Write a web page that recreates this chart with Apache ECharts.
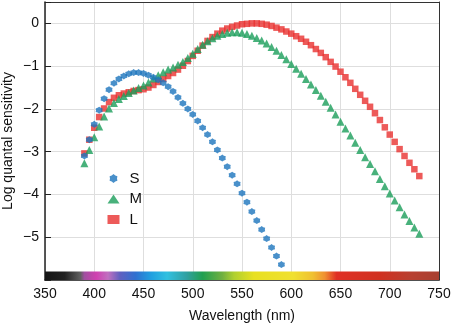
<!DOCTYPE html>
<html>
<head>
<meta charset="utf-8">
<script src="https://cdn.jsdelivr.net/npm/echarts@6/dist/echarts.min.js"></script>
<style>
html,body{margin:0;padding:0;background:#fff;}
#chart{width:452px;height:324px;}
</style>
</head>
<body>
<div id="chart"></div>
<script>
// Wavelengths (nm)
const wlS = [390,395,400,405,410,415,420,425,430,435,440,445,450,455,460,465,470,475,480,485,490,495,500,505,510,515,520,525,530,535,540,545,550,555,560,565,570,575,580,585,590];
const wlML = [390,395,400,405,410,415,420,425,430,435,440,445,450,455,460,465,470,475,480,485,490,495,500,505,510,515,520,525,530,535,540,545,550,555,560,565,570,575,580,585,590,595,600,605,610,615,620,625,630,635,640,645,650,655,660,665,670,675,680,685,690,695,700,705,710,715,720,725,730];

// Log quantal sensitivity
const sValues = [-3.10,-2.72,-2.36,-2.03,-1.76,-1.55,-1.40,-1.30,-1.23,-1.18,-1.15,-1.15,-1.17,-1.21,-1.26,-1.32,-1.39,-1.48,-1.59,-1.73,-1.87,-2.00,-2.13,-2.28,-2.44,-2.60,-2.77,-2.96,-3.15,-3.35,-3.55,-3.75,-3.97,-4.18,-4.40,-4.61,-4.82,-5.03,-5.24,-5.44,-5.64];
const mValues = [-3.27,-2.96,-2.66,-2.41,-2.18,-1.99,-1.86,-1.77,-1.70,-1.63,-1.57,-1.51,-1.45,-1.38,-1.29,-1.21,-1.14,-1.08,-1.03,-0.97,-0.90,-0.81,-0.71,-0.60,-0.50,-0.42,-0.35,-0.29,-0.25,-0.22,-0.21,-0.21,-0.22,-0.25,-0.29,-0.34,-0.40,-0.47,-0.55,-0.64,-0.74,-0.84,-0.95,-1.06,-1.18,-1.30,-1.43,-1.56,-1.69,-1.83,-1.97,-2.13,-2.30,-2.46,-2.62,-2.79,-2.96,-3.13,-3.29,-3.46,-3.64,-3.81,-3.98,-4.14,-4.30,-4.47,-4.62,-4.77,-4.92];
const lValues = [-3.04,-2.72,-2.44,-2.19,-1.99,-1.84,-1.74,-1.68,-1.64,-1.61,-1.58,-1.56,-1.54,-1.50,-1.44,-1.37,-1.30,-1.23,-1.16,-1.08,-0.99,-0.88,-0.76,-0.64,-0.52,-0.41,-0.32,-0.24,-0.17,-0.12,-0.08,-0.05,-0.02,-0.01,0.00,0.00,-0.01,-0.03,-0.06,-0.10,-0.14,-0.19,-0.24,-0.30,-0.36,-0.43,-0.51,-0.60,-0.69,-0.79,-0.90,-1.01,-1.13,-1.26,-1.39,-1.53,-1.67,-1.81,-1.95,-2.10,-2.26,-2.43,-2.60,-2.77,-2.94,-3.10,-3.26,-3.41,-3.57];

const seriesNames = ['S','M','L'];
const xTicks = [350,400,450,500,550,600,650,700,750];
const yTicks = [0,-1,-2,-3,-4,-5];

const starPath = 'path://M0,-1L0.39,-0.675L0.866,-0.5L0.78,0L0.866,0.5L0.39,0.675L0,1L-0.39,0.675L-0.866,0.5L-0.78,0L-0.866,-0.5L-0.39,-0.675Z';

const pairs = (xs, ys) => xs.map((x, i) => [x, ys[i]]);
const font = '"Liberation Sans", Arial, Helvetica, sans-serif';
const frameAxis = {show: true, lineStyle: {color: '#333', width: 1}};

const chart = echarts.init(document.getElementById('chart'), null, {renderer: 'canvas'});
chart.setOption({
  animation: false,
  backgroundColor: '#ffffff',
  grid: {left: 45, right: 13, top: 2, bottom: 44, containLabel: false, outerBoundsMode: 'none'},
  legend: {
    data: seriesNames,
    orient: 'vertical',
    left: 102.5, top: 166,
    itemWidth: 12, itemHeight: 9, itemGap: 5.5,
    textStyle: {fontFamily: font, fontSize: 15, color: '#111', lineHeight: 14, padding: [0,0,0,5]}
  },
  xAxis: [{
    type: 'value', min: 350, max: 750, interval: 50,
    name: 'Wavelength (nm)', nameLocation: 'middle', nameGap: 29,
    nameTextStyle: {fontFamily: font, fontSize: 14, color: '#111'},
    axisLine: {show: true, onZero: false, lineStyle: {color: '#222', width: 1.5}},
    axisTick: {show: false},
    axisLabel: {fontFamily: font, fontSize: 14, color: '#111', margin: 7,
      formatter: v => xTicks.indexOf(v) >= 0 ? String(v) : ''},
    splitLine: {show: true, lineStyle: {color: '#dedede', width: 1}}
  }, {
    type: 'value', position: 'top', min: 350, max: 750, interval: 50,
    axisLine: Object.assign({onZero: false}, frameAxis),
    axisTick: {show: false}, axisLabel: {show: false}, splitLine: {show: false}
  }],
  yAxis: [{
    type: 'value', min: -6, max: 0.5, interval: 1,
    name: 'Log quantal sensitivity', nameLocation: 'middle', nameGap: 30, nameMoveOverlap: false,
    nameTextStyle: {fontFamily: font, fontSize: 14, color: '#111'},
    axisLine: {show: true, onZero: false, lineStyle: {color: '#222', width: 1.5}},
    axisTick: {show: true, inside: true, length: 6, lineStyle: {color: '#222'}},
    axisLabel: {fontFamily: font, fontSize: 14, color: '#111', margin: 6,
      formatter: v => yTicks.indexOf(v) >= 0 ? (v < 0 ? '\u2212' + Math.abs(v) : String(v)) : ''},
    splitLine: {show: true, lineStyle: {color: '#dedede', width: 1}}
  }, {
    type: 'value', position: 'right', min: -6, max: 0.5, interval: 1,
    axisLine: Object.assign({onZero: false}, frameAxis),
    axisTick: {show: false}, axisLabel: {show: false}, splitLine: {show: false}
  }],
  series: [
    {
      name: 'spectrum', type: 'scatter', data: [], silent: true,
      markArea: {
        silent: true,
        itemStyle: {
          color: {type: 'linear', x: 0, y: 0, x2: 1, y2: 0, colorStops: [
            {offset: 0.00, color: '#151515'},
            {offset: 0.05, color: '#222222'},
            {offset: 0.09, color: '#606060'},
            {offset: 0.10, color: '#a050a0'},
            {offset: 0.13, color: '#d040b0'},
            {offset: 0.16, color: '#c070c0'},
            {offset: 0.19, color: '#6060c0'},
            {offset: 0.23, color: '#3070d0'},
            {offset: 0.27, color: '#20a0e0'},
            {offset: 0.31, color: '#30c0e0'},
            {offset: 0.36, color: '#30a0a0'},
            {offset: 0.40, color: '#20a050'},
            {offset: 0.45, color: '#70b040'},
            {offset: 0.48, color: '#b0d030'},
            {offset: 0.53, color: '#e8e020'},
            {offset: 0.63, color: '#f0e030'},
            {offset: 0.68, color: '#f0c030'},
            {offset: 0.71, color: '#f09030'},
            {offset: 0.74, color: '#e03025'},
            {offset: 0.85, color: '#d03020'},
            {offset: 0.93, color: '#b84030'},
            {offset: 1.00, color: '#a84030'}
          ]}
        },
        data: [[{coord: [350, -5.8]}, {coord: [750, -6]}]]
      }
    },
    {
      name: 'S', type: 'scatter', data: pairs(wlS, sValues),
      symbol: starPath, symbolSize: 7,
      itemStyle: {color: '#1b74bd'}, z: 3
    },
    {
      name: 'M', type: 'scatter', data: pairs(wlML, mValues),
      symbol: 'triangle', symbolSize: 8,
      itemStyle: {color: '#1a9e5a'}, z: 2
    },
    {
      name: 'L', type: 'scatter', data: pairs(wlML, lValues),
      symbol: 'rect', symbolSize: 6.5,
      itemStyle: {color: '#e8312f'}, z: 1
    }
  ]
});
</script>
</body>
</html>
